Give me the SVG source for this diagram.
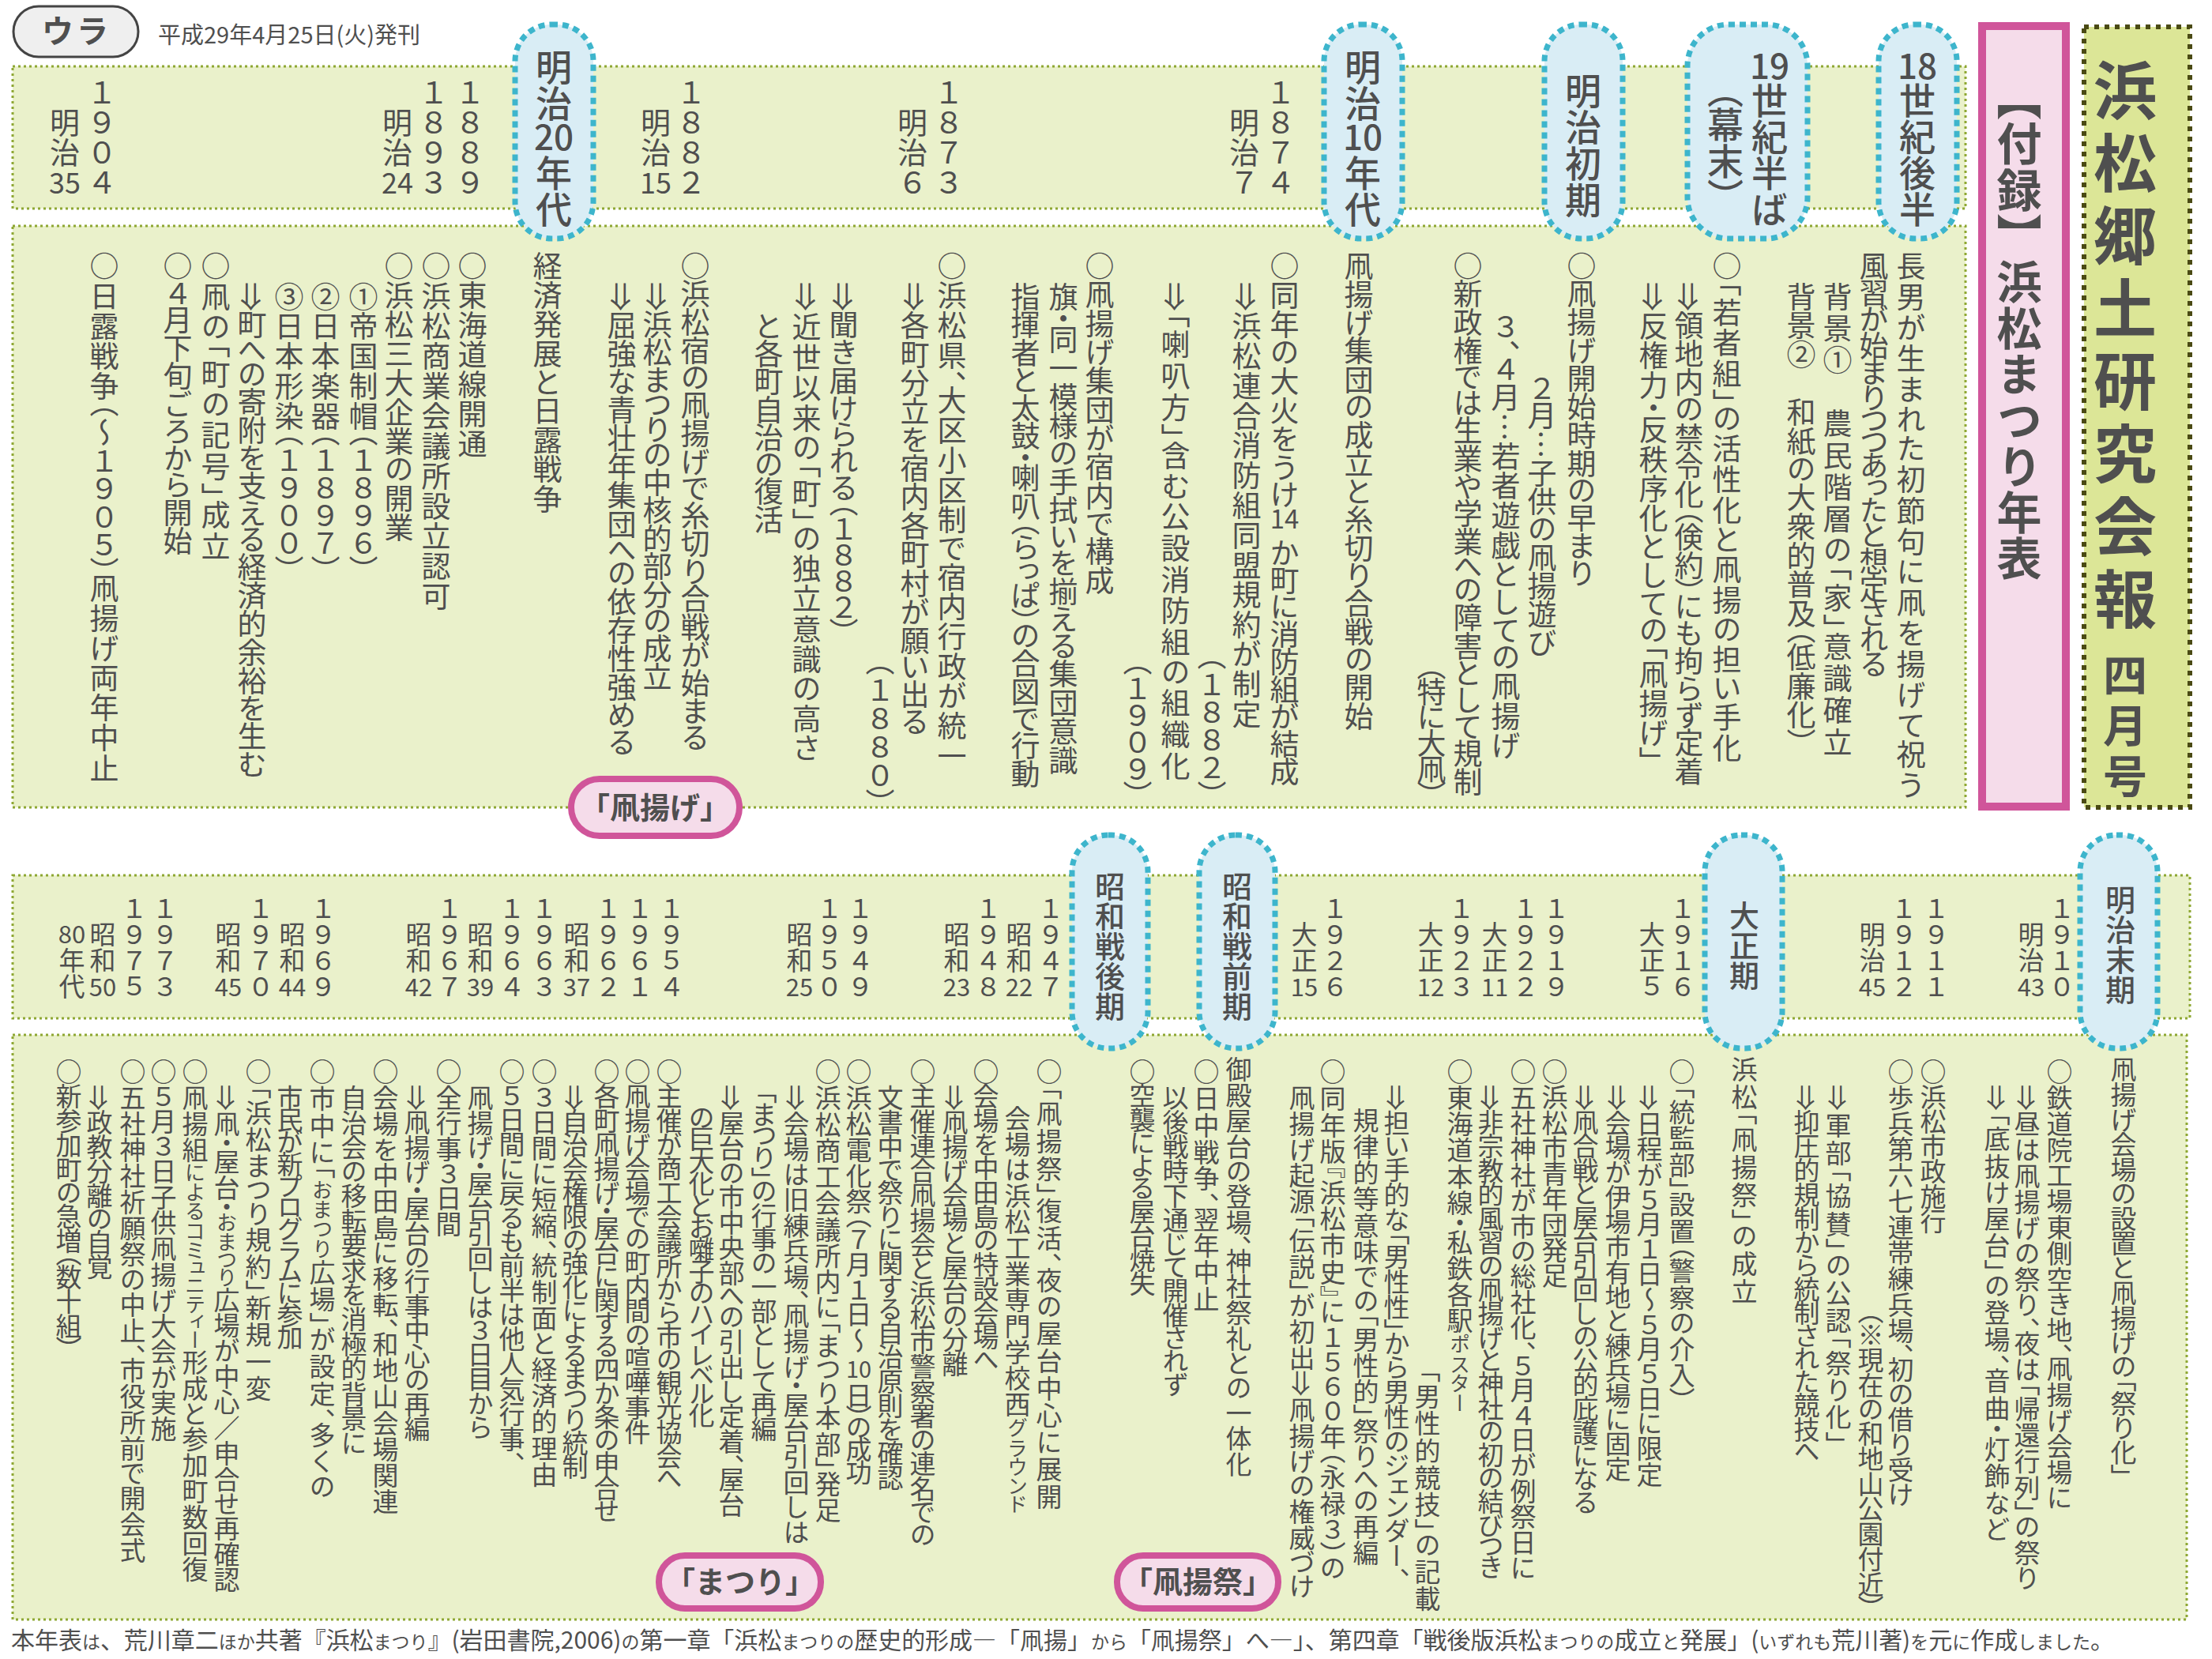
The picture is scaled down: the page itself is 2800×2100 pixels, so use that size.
<svg xmlns="http://www.w3.org/2000/svg" width="2800" height="2100" viewBox="0 0 2800 2100">
<style>
.f{font-family:"Noto Sans CJK JP","Noto Sans",sans-serif;fill:#4f4f4f}
.v{writing-mode:vertical-rl;font-feature-settings:"vpal" 1}
.vy{writing-mode:vertical-rl}
.tb{font-size:37px}
.bb{font-size:33px}
.ty{font-size:38px}
.by{font-size:33px}
.tn{font-size:36px;text-anchor:middle}
.bn{font-size:31px;text-anchor:middle}
.sm{font-size:26px}
.fs{font-size:23px}
.panel{fill:#eaf1cb;stroke:#8ea733;stroke-width:3;stroke-dasharray:3 4}
.bub{fill:#d9edf5;stroke:#3db5cc;stroke-width:7;stroke-dasharray:8 6}
.pill{fill:#f5dcea;stroke:#d0559a;stroke-width:8}
.bt{font-size:46px;font-weight:500}
.bt2{font-size:38px;font-weight:500}
.pt{font-size:38px;font-weight:700;text-anchor:middle}
</style>

<!-- header -->
<g id="header">
  <rect x="17" y="8" width="158" height="64" rx="32" fill="#efefef" stroke="#444" stroke-width="3"/>
  <text class="f" x="97" y="54" font-size="40" font-weight="700" text-anchor="middle" letter-spacing="4">ウラ</text>
  <text class="f" x="200" y="55" font-size="29">平成29年4月25日(火)発刊</text>
</g>

<!-- background bands -->
<g id="bands">
  <rect class="panel" x="16" y="84" width="2472" height="180"/>
  <rect class="panel" x="16" y="286" width="2472" height="736"/>
  <rect class="panel" x="16" y="1108" width="2756" height="181"/>
  <rect class="panel" x="16" y="1310" width="2752" height="740"/>
</g>

<!-- title boxes -->
<g id="title">
  <rect x="2638" y="34" width="134" height="988" fill="#dce697" stroke="#4a4a14" stroke-width="6" stroke-dasharray="6 7"/>
  <text class="f vy" x="2690" y="74" font-size="80" font-weight="700" letter-spacing="12">浜松郷土研究会報</text>
  <text class="f vy" x="2690" y="826" font-size="56" font-weight="700" letter-spacing="8">四月号</text>
</g>
<g id="subtitle">
  <rect x="2509" y="33" width="106" height="988" fill="#f5dcea" stroke="#d0559a" stroke-width="10"/>
  <text class="f vy" x="2556" y="95" font-size="57" font-weight="700" textLength="640">【付録】浜松まつり年表</text>
</g>

<!-- era bubbles, top -->
<g id="era-18c">
  <rect class="bub" x="2378" y="31" width="99" height="271" rx="46"/>
  <text class="f" x="2427" y="100" font-size="44" font-weight="500" text-anchor="middle">18</text>
  <text class="f v bt" x="2427" y="104">世紀後半</text>
</g>
<g id="era-19c">
  <rect class="bub" x="2136" y="31" width="152" height="271" rx="52"/>
  <text class="f" x="2240" y="100" font-size="44" font-weight="500" text-anchor="middle">19</text>
  <text class="f v bt" x="2240" y="104">世紀半ば</text>
  <text class="f v bt" x="2184" y="112">（幕末）</text>
</g>
<g id="era-meiji-early">
  <rect class="bub" x="1955" y="31" width="99" height="271" rx="46"/>
  <text class="f v bt" x="2004" y="92">明治初期</text>
</g>
<g id="era-meiji10">
  <rect class="bub" x="1676" y="31" width="99" height="271" rx="46"/>
  <text class="f v bt" x="1725" y="62">明治</text>
  <text class="f" x="1725" y="190" font-size="44" font-weight="500" text-anchor="middle">10</text>
  <text class="f v bt" x="1725" y="196">年代</text>
</g>
<g id="era-meiji20">
  <rect class="bub" x="652" y="31" width="99" height="271" rx="46"/>
  <text class="f v bt" x="701" y="62">明治</text>
  <text class="f" x="701" y="190" font-size="44" font-weight="500" text-anchor="middle">20</text>
  <text class="f v bt" x="701" y="196">年代</text>
</g>

<!-- years, top band -->
<g id="years-top">
  <text class="f vy ty" x="1621" y="98">１８７４</text>
  <text class="f vy ty" x="1575" y="136">明治７</text>
  <text class="f vy ty" x="1201" y="98">１８７３</text>
  <text class="f vy ty" x="1155" y="136">明治６</text>
  <text class="f vy ty" x="875" y="98">１８８２</text>
  <text class="f vy ty" x="830" y="136">明治</text>
  <text class="f tn" x="830" y="245">15</text>
  <text class="f vy ty" x="595" y="98">１８８９</text>
  <text class="f vy ty" x="549" y="98">１８９３</text>
  <text class="f vy ty" x="503" y="136">明治</text>
  <text class="f tn" x="503" y="245">24</text>
  <text class="f vy ty" x="129" y="98">１９０４</text>
  <text class="f vy ty" x="82" y="136">明治</text>
  <text class="f tn" x="82" y="245">35</text>
</g>

<!-- entries, top panel -->
<g id="entries-top">
  <text class="f v tb" x="2419" y="318" textLength="693">長男が生まれた初節句に凧を揚げて祝う</text>
  <text class="f v tb" x="2372" y="318" textLength="541">風習が始まりつつあったと想定される</text>
  <text class="f v tb" x="2326" y="357" textLength="601">背景①　農民階層の「家」意識確立</text>
  <text class="f v tb" x="2280" y="357" textLength="585">背景②　和紙の大衆的普及（低廉化）</text>
  <text class="f v tb" x="2186" y="318" textLength="647">○「若者組」の活性化と凧揚の担い手化</text>
  <text class="f v tb" x="2138" y="357" textLength="638">⇒領地内の禁令化（倹約）にも拘らず定着</text>
  <text class="f v tb" x="2093" y="357" textLength="608">⇒反権力・反秩序化としての「凧揚げ」</text>
  <text class="f v tb" x="2002" y="318" textLength="425">○凧揚げ開始時期の早まり</text>
  <text class="f v tb" x="1952" y="474" textLength="358">２月…子供の凧揚遊び</text>
  <text class="f v tb" x="1906" y="396" textLength="566">３、４月…若者遊戯としての凧揚げ</text>
  <text class="f v tb" x="1858" y="318" textLength="690">○新政権では生業や学業への障害として規制</text>
  <text class="f v tb" x="1812" y="842" textLength="166">（特に大凧）</text>
  <text class="f v tb" x="1720" y="318" textLength="607">凧揚げ集団の成立と糸切り合戦の開始</text>
  <text class="f v tb" x="1626" y="318" textLength="325">○同年の大火をうけ</text>
  <text class="f" x="1626" y="669" font-size="33" text-anchor="middle">14</text>
  <text class="f v tb" x="1626" y="683" textLength="312">か町に消防組が結成</text>
  <text class="f v tb" x="1578" y="357" textLength="565">⇒浜松連合消防組同盟規約が制定</text>
  <text class="f v tb" x="1534" y="829" textLength="179">（１８８２）</text>
  <text class="f v tb" x="1488" y="357" textLength="631">⇒「喇叭方」含む公設消防組の組織化</text>
  <text class="f v tb" x="1440" y="836" textLength="172">（１９０９）</text>
  <text class="f v tb" x="1392" y="318" textLength="435">○凧揚げ集団が宿内で構成</text>
  <text class="f v tb" x="1346" y="357" textLength="624">旗・同一模様の手拭いを揃える集団意識</text>
  <text class="f v tb" x="1298" y="357" textLength="641">指揮者と太鼓・喇叭（らっぱ）の合図で行動</text>
  <text class="f v tb" x="1205" y="318" textLength="657">○浜松県、大区小区制で宿内行政が統一</text>
  <text class="f v tb" x="1158" y="357" textLength="575">⇒各町分立を宿内各町村が願い出る</text>
  <text class="f v tb" x="1114" y="836" textLength="182">（１８８０）</text>
  <text class="f v tb" x="1068" y="357" textLength="445">⇒聞き届けられる（１８８２）</text>
  <text class="f v tb" x="1021" y="357" textLength="608">⇒近世以来の「町」の独立意識の高さ</text>
  <text class="f v tb" x="973" y="396" textLength="280">と各町自治の復活</text>
  <text class="f v tb" x="880" y="318" textLength="634">○浜松宿の凧揚げで糸切り合戦が始まる</text>
  <text class="f v tb" x="832" y="357" textLength="518">⇒浜松まつりの中核的部分の成立</text>
  <text class="f v tb" x="787" y="357" textLength="601">⇒屈強な青壮年集団への依存性強める</text>
  <text class="f v tb" x="693" y="318" textLength="332">経済発展と日露戦争</text>
  <text class="f v tb" x="598" y="318" textLength="262">○東海道線開通</text>
  <text class="f v tb" x="552" y="318" textLength="455">○浜松商業会議所設立認可</text>
  <text class="f v tb" x="505" y="318" textLength="368">○浜松三大企業の開業</text>
  <text class="f v tb" x="460" y="357" textLength="366">①帝国制帽（１８９６）</text>
  <text class="f v tb" x="412" y="357" textLength="366">②日本楽器（１８９７）</text>
  <text class="f v tb" x="366" y="357" textLength="366">③日本形染（１９００）</text>
  <text class="f v tb" x="319" y="357" textLength="628">⇒町への寄附を支える経済的余裕を生む</text>
  <text class="f v tb" x="273" y="318" textLength="392">○凧の「町の記号」成立</text>
  <text class="f v tb" x="225" y="318" textLength="385">○４月下旬ごろから開始</text>
  <text class="f v tb" x="132" y="318" textLength="673">○日露戦争（～１９０５）凧揚げ両年中止</text>
</g>

<g id="tag-takoage">
  <rect class="pill" x="723" y="986" width="213" height="72" rx="36"/>
  <text class="f pt" x="829" y="1036">「凧揚げ」</text>
</g>

<!-- era bubbles, bottom -->
<g id="era-meiji-late">
  <rect class="bub" x="2633" y="1057" width="98" height="270" rx="46"/>
  <text class="f v bt2" x="2684" y="1120">明治末期</text>
</g>
<g id="era-taisho">
  <rect class="bub" x="2158" y="1057" width="98" height="270" rx="46"/>
  <text class="f v bt2" x="2208" y="1140">大正期</text>
</g>
<g id="era-showa-prewar">
  <rect class="bub" x="1518" y="1057" width="96" height="270" rx="46"/>
  <text class="f v bt2" x="1566" y="1103">昭和戦前期</text>
</g>
<g id="era-showa-postwar">
  <rect class="bub" x="1357" y="1057" width="96" height="270" rx="46"/>
  <text class="f v bt2" x="1405" y="1103">昭和戦後期</text>
</g>

<!-- years, bottom band -->
<g id="years-bottom">
  <text class="f vy by" x="2610" y="1133">１９１０</text>
  <text class="f vy by" x="2571" y="1166">明治</text>
  <text class="f bn" x="2571" y="1261">43</text>
  <text class="f vy by" x="2451" y="1133">１９１１</text>
  <text class="f vy by" x="2410" y="1133">１９１２</text>
  <text class="f vy by" x="2370" y="1166">明治</text>
  <text class="f bn" x="2370" y="1261">45</text>
  <text class="f vy by" x="2130" y="1133">１９１６</text>
  <text class="f vy by" x="2091" y="1166">大正５</text>
  <text class="f vy by" x="1970" y="1133">１９１９</text>
  <text class="f vy by" x="1931" y="1133">１９２２</text>
  <text class="f vy by" x="1892" y="1166">大正</text>
  <text class="f bn" x="1892" y="1261">11</text>
  <text class="f vy by" x="1850" y="1133">１９２３</text>
  <text class="f vy by" x="1811" y="1166">大正</text>
  <text class="f bn" x="1811" y="1261">12</text>
  <text class="f vy by" x="1690" y="1133">１９２６</text>
  <text class="f vy by" x="1651" y="1166">大正</text>
  <text class="f bn" x="1651" y="1261">15</text>
  <text class="f vy by" x="1330" y="1133">１９４７</text>
  <text class="f vy by" x="1290" y="1166">昭和</text>
  <text class="f bn" x="1290" y="1261">22</text>
  <text class="f vy by" x="1251" y="1133">１９４８</text>
  <text class="f vy by" x="1211" y="1166">昭和</text>
  <text class="f bn" x="1211" y="1261">23</text>
  <text class="f vy by" x="1089" y="1133">１９４９</text>
  <text class="f vy by" x="1050" y="1133">１９５０</text>
  <text class="f vy by" x="1012" y="1166">昭和</text>
  <text class="f bn" x="1012" y="1261">25</text>
  <text class="f vy by" x="850" y="1133">１９５４</text>
  <text class="f vy by" x="810" y="1133">１９６１</text>
  <text class="f vy by" x="770" y="1133">１９６２</text>
  <text class="f vy by" x="730" y="1166">昭和</text>
  <text class="f bn" x="730" y="1261">37</text>
  <text class="f vy by" x="689" y="1133">１９６３</text>
  <text class="f vy by" x="648" y="1133">１９６４</text>
  <text class="f vy by" x="608" y="1166">昭和</text>
  <text class="f bn" x="608" y="1261">39</text>
  <text class="f vy by" x="569" y="1133">１９６７</text>
  <text class="f vy by" x="530" y="1166">昭和</text>
  <text class="f bn" x="530" y="1261">42</text>
  <text class="f vy by" x="409" y="1133">１９６９</text>
  <text class="f vy by" x="370" y="1166">昭和</text>
  <text class="f bn" x="370" y="1261">44</text>
  <text class="f vy by" x="330" y="1133">１９７０</text>
  <text class="f vy by" x="289" y="1166">昭和</text>
  <text class="f bn" x="289" y="1261">45</text>
  <text class="f vy by" x="209" y="1133">１９７３</text>
  <text class="f vy by" x="170" y="1133">１９７５</text>
  <text class="f vy by" x="130" y="1166">昭和</text>
  <text class="f bn" x="130" y="1261">50</text>
  <text class="f bn" x="91" y="1194">80</text>
  <text class="f vy by" x="91" y="1199">年代</text>
</g>

<!-- entries, bottom panel -->
<g id="entries-bottom">
  <text class="f v bb" x="2688" y="1337" textLength="533">凧揚げ会場の設置と凧揚げの「祭り化」</text>
  <text class="f v bb" x="2607" y="1340" textLength="571">○鉄道院工場東側空き地、凧揚げ会場に</text>
  <text class="f v bb" x="2566" y="1373" textLength="640">⇒昼は凧揚げの祭り、夜は「帰還行列」の祭り</text>
  <text class="f v bb" x="2528" y="1373" textLength="579">⇒「底抜け屋台」の登場、音曲・灯飾など</text>
  <text class="f v bb" x="2447" y="1340" textLength="222">○浜松市政施行</text>
  <text class="f v bb" x="2406" y="1340" textLength="567">○歩兵第六七連帯練兵場、初の借り受け</text>
  <text class="f v bb" x="2368" y="1658" textLength="379">（※現在の和地山公園付近）</text>
  <text class="f v bb" x="2327" y="1373" textLength="456">⇒軍部「協賛」の公認「祭り化」</text>
  <text class="f v bb" x="2287" y="1373" textLength="476">⇒抑圧的規制から統制された競技へ</text>
  <text class="f v bb" x="2208" y="1337" textLength="314">浜松「凧揚祭」の成立</text>
  <text class="f v bb" x="2129" y="1340" textLength="434">○「統監部」設置（警察の介入）</text>
  <text class="f v bb" x="2088" y="1373" textLength="510">⇒日程が５月１日～５月５日に限定</text>
  <text class="f v bb" x="2048" y="1373" textLength="503">⇒会場が伊場市有地と練兵場に固定</text>
  <text class="f v bb" x="2007" y="1373" textLength="544">⇒凧合戦と屋台引回しの公的庇護になる</text>
  <text class="f v bb" x="1968" y="1340" textLength="291">○浜松市青年団発足</text>
  <text class="f v bb" x="1928" y="1340" textLength="660">○五社神社が市の総社化、５月４日が例祭日に</text>
  <text class="f v bb" x="1887" y="1373" textLength="627">⇒非宗教的風習の凧揚げと神社の初の結びつき</text>
  <text class="f v bb" x="1848" y="1340" textLength="448">○東海道本線・私鉄各駅<tspan class="sm">ポスター</tspan></text>
  <text class="f v bb" x="1807" y="1733" textLength="307">「男性的競技」の記載</text>
  <text class="f v bb" x="1768" y="1373" textLength="627">⇒担い手的な「男性性」から男性のジェンダー、</text>
  <text class="f v bb" x="1729" y="1402" textLength="580">規律的等意味での「男性的」祭りへの再編</text>
  <text class="f v bb" x="1687" y="1340" textLength="660">○同年版『浜松市史』に１５６０年（永禄３）の</text>
  <text class="f v bb" x="1648" y="1373" textLength="650">凧揚げ起源「伝説」が初出⇒凧揚げの権威づけ</text>
  <text class="f v bb" x="1568" y="1337" textLength="533">御殿屋台の登場、神社祭礼との一体化</text>
  <text class="f v bb" x="1527" y="1340" textLength="321">○日中戦争、翌年中止</text>
  <text class="f v bb" x="1488" y="1373" textLength="394">以後戦時下通じて開催されず</text>
  <text class="f v bb" x="1446" y="1340" textLength="301">○空襲による屋台焼失</text>
  <text class="f v bb" x="1328" y="1340" textLength="571">○「凧揚祭」復活、夜の屋台中心に展開</text>
  <text class="f v bb" x="1288" y="1399" textLength="518">会場は浜松工業専門学校西<tspan class="sm">グラウンド</tspan></text>
  <text class="f v bb" x="1248" y="1340" textLength="393">○会場を中田島の特設会場へ</text>
  <text class="f v bb" x="1209" y="1373" textLength="370">⇒凧揚げ会場と屋台の分離</text>
  <text class="f v bb" x="1168" y="1340" textLength="618">○主催連合凧揚会と浜松市警察署の連名での</text>
  <text class="f v bb" x="1127" y="1373" textLength="514">文書中で祭りに関する自治原則を確認</text>
  <text class="f v bb" x="1087" y="1340" textLength="373">○浜松電化祭（７月１日～</text>
  <text class="f" x="1087" y="1744" font-size="29" text-anchor="middle">10</text>
  <text class="f v bb" x="1087" y="1750" textLength="130">日）の成功</text>
  <text class="f v bb" x="1048" y="1340" textLength="588">○浜松商工会議所内に「まつり本部」発足</text>
  <text class="f v bb" x="1008" y="1373" textLength="582">⇒会場は旧練兵場、凧揚げ・屋台引回しは</text>
  <text class="f v bb" x="967" y="1380" textLength="445">「まつり」の行事の一部として再編</text>
  <text class="f v bb" x="926" y="1373" textLength="548">⇒屋台の市中央部への引出し定着、屋台</text>
  <text class="f v bb" x="888" y="1399" textLength="409">の巨大化とお囃子のハイレベル化</text>
  <text class="f v bb" x="847" y="1340" textLength="543">○主催が商工会議所から市の観光協会へ</text>
  <text class="f v bb" x="807" y="1340" textLength="489">○凧揚げ会場での町内間の喧嘩事件</text>
  <text class="f v bb" x="768" y="1340" textLength="588">○各町凧揚げ・屋台に関する四か条の申合せ</text>
  <text class="f v bb" x="728" y="1373" textLength="500">⇒自治会権限の強化によるまつり統制</text>
  <text class="f v bb" x="689" y="1340" textLength="543">○３日間に短縮、統制面と経済的理由</text>
  <text class="f v bb" x="648" y="1340" textLength="513">○５日間に戻るも前半は他人気行事、</text>
  <text class="f v bb" x="608" y="1373" textLength="449">凧揚げ・屋台引回しは３日目から</text>
  <text class="f v bb" x="568" y="1340" textLength="226">○全行事３日間</text>
  <text class="f v bb" x="528" y="1373" textLength="452">⇒凧揚げ・屋台の行事中心の再編</text>
  <text class="f v bb" x="488" y="1340" textLength="577">○会場を中田島に移転、和地山会場関連</text>
  <text class="f v bb" x="448" y="1373" textLength="469">自治会の移転要求を消極的背景に</text>
  <text class="f v bb" x="408" y="1340" textLength="557">○市中に「<tspan class="sm">おまつり</tspan>広場」が設定、多くの</text>
  <text class="f v bb" x="367" y="1373" textLength="336">市民が新プログラムに参加</text>
  <text class="f v bb" x="327" y="1340" textLength="434">○「浜松まつり規約」新規一変</text>
  <text class="f v bb" x="287" y="1373" textLength="643">⇒凧・屋台・<tspan class="sm">おまつり</tspan>広場が中心／申合せ再確認</text>
  <text class="f v bb" x="247" y="1340" textLength="663">○凧揚組<tspan class="sm">によるコミュニティー</tspan>形成と参加町数回復</text>
  <text class="f v bb" x="207" y="1340" textLength="485">○５月３日子供凧揚げ大会が実施</text>
  <text class="f v bb" x="168" y="1340" textLength="639">○五社神社祈願祭の中止、市役所前で開会式</text>
  <text class="f v bb" x="126" y="1373" textLength="247">⇒政教分離の自覚</text>
  <text class="f v bb" x="87" y="1340" textLength="369">○新参加町の急増（数十組）</text>
</g>

<g id="tag-matsuri">
  <rect class="pill" x="834" y="1969" width="205" height="67" rx="33"/>
  <text class="f pt" x="937" y="2016">「まつり」</text>
</g>
<g id="tag-takoagesai">
  <rect class="pill" x="1414" y="1969" width="204" height="67" rx="33"/>
  <text class="f pt" x="1516" y="2016">「凧揚祭」</text>
</g>

<!-- source note -->
<g id="footer">
  <text class="f" x="14" y="2087" font-size="30" textLength="2662" lengthAdjust="spacing">本年表<tspan class="fs">は</tspan>、荒川章二<tspan class="fs">ほか</tspan>共著『浜松<tspan class="fs">まつり</tspan>』(岩田書院,2006)<tspan class="fs">の</tspan>第一章「浜松<tspan class="fs">まつりの</tspan>歴史的形成―「凧揚」<tspan class="fs">から</tspan>「凧揚祭」へ―」、第四章「戦後版浜松<tspan class="fs">まつりの</tspan>成立<tspan class="fs">と</tspan>発展」(<tspan class="fs">いずれも</tspan>荒川著)<tspan class="fs">を</tspan>元<tspan class="fs">に</tspan>作成<tspan class="fs">しました</tspan>。</text>
</g>
</svg>
